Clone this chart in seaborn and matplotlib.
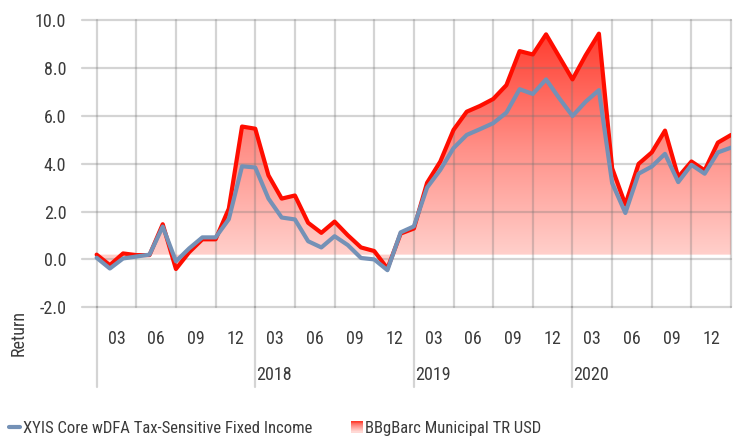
import numpy as np
import pandas as pd
import seaborn as sns
import matplotlib
matplotlib.use("Agg")
import matplotlib.pyplot as plt
from matplotlib.path import Path
from matplotlib.patches import Rectangle
from matplotlib.lines import Line2D
from matplotlib.legend_handler import HandlerBase
import matplotlib.transforms as mtransforms
from matplotlib.colors import LinearSegmentedColormap

# Monthly returns (%), 49 points
fund = [0.07, -0.38, 0.04, 0.12, 0.20, 1.37, -0.08, 0.46, 0.92, 0.92, 1.68, 3.89, 3.84,
        2.54, 1.75, 1.67, 0.76, 0.50, 0.97, 0.60, 0.06, 0.00, -0.45, 1.13, 1.38,
        3.00, 3.74, 4.65, 5.20, 5.44, 5.69, 6.13, 7.11, 6.91, 7.52, 6.73, 5.99,
        6.59, 7.07, 3.19, 1.94, 3.58, 3.88, 4.41, 3.23, 3.95, 3.58, 4.47, 4.67]
bench = [0.20, -0.24, 0.25, 0.18, 0.18, 1.47, -0.40, 0.30, 0.84, 0.84, 2.12, 5.55, 5.46,
         3.51, 2.54, 2.67, 1.53, 1.11, 1.58, 1.01, 0.50, 0.35, -0.38, 1.08, 1.29,
         3.20, 4.09, 5.41, 6.17, 6.41, 6.70, 7.28, 8.70, 8.56, 9.40, 8.46, 7.52,
         8.53, 9.43, 3.81, 2.29, 3.99, 4.47, 5.38, 3.44, 4.09, 3.72, 4.88, 5.20]
month_labels = ["03", "06", "09", "12"] * 4
year_labels = ["", "2018", "2019", "2020"]
fund_name = "XYIS Core wDFA Tax-Sensitive Fixed Income"
bench_name = "BBgBarc Municipal TR USD"

FILL_BASE = 0.2
BLUE = "#7491b6"
RED = "#ff0d00"
TXT = "#3b3b3b"
GRID = (0.45, 0.45, 0.45, 0.3)

df = pd.DataFrame({"idx": np.arange(len(fund)), "fund": fund, "bench": bench})

sns.set_theme(style="white")
plt.rcParams["font.family"] = ["Roboto Condensed", "DejaVu Sans"]
FS = 13

fig = plt.figure(figsize=(7.38, 4.40), dpi=100)
ax = fig.add_axes([81.7 / 738, 1 - 307.3 / 440, (731.5 - 81.7) / 738, (307.3 - 20) / 440])
for s in ax.spines.values():
    s.set_visible(False)

# gradient area under the benchmark line
poly = ax.fill_between(df["idx"], df["bench"], FILL_BASE, facecolor="none", edgecolor="none")
clip = Path.make_compound_path(*poly.get_paths())
cmap = LinearSegmentedColormap.from_list("grad", ["#ffd9d5", "#ff9189", "#ff3a2c"])
grad = np.linspace(0, 1, 256).reshape(-1, 1)
im = ax.imshow(grad, cmap=cmap, origin="lower", aspect="auto",
               extent=[0, 48, -0.5, 9.6], zorder=1, interpolation="bilinear")
im.set_clip_path(clip, transform=ax.transData)
ax.set_xlim(-1.13, 48.03)
ax.set_ylim(-2, 10)

# grid over the fill
for v in np.arange(-2, 10.1, 2):
    ax.axhline(v, color=GRID, lw=1.6, zorder=2, clip_on=False)
for q in range(0, 49, 3):
    ax.axvline(q, color=GRID, lw=1.6, zorder=2, clip_on=False)

sns.lineplot(data=df, x="idx", y="bench", color=RED, lw=3, ax=ax, zorder=4)
sns.lineplot(data=df, x="idx", y="fund", color=BLUE, lw=3, ax=ax, zorder=5)

# y axis
ax.set_yticks(np.arange(-2, 10.1, 2))
ax.set_yticklabels([f"{v:.1f}" for v in np.arange(-2, 10.1, 2)])
ax.tick_params(axis="y", length=0, pad=11, labelsize=FS, labelcolor=TXT)
ax.set_ylabel("")
ax.set_xlabel("")
fig.text(19 / 738, 1 - 333 / 440, "Return", rotation=90, ha="center", va="center",
         fontsize=FS, color=TXT)

# x axis: quarter ticks and month labels
ax.set_xticks(np.arange(0, 49, 3))
ax.set_xticklabels([])
ax.tick_params(axis="x", which="major", direction="out", length=9.5, width=1.6, color=GRID)
ax.set_xticks(np.arange(1.5, 48, 3), minor=True)
ax.set_xticklabels(month_labels, minor=True)
ax.tick_params(axis="x", which="minor", length=0, pad=16, labelsize=FS, labelcolor=TXT)

trans = mtransforms.blended_transform_factory(ax.transData, fig.transFigure)
for k, yr in enumerate(year_labels):
    x0 = 12 * k
    ax.plot([x0, x0], [1 - 307.3 / 440, 1 - 387 / 440], color=GRID, lw=1.6,
            transform=trans, clip_on=False)
    ax.text(x0 + 0.08, 1 - 375 / 440, yr, transform=trans, ha="left", va="center",
            fontsize=FS, color=TXT)


class GradientHandler(HandlerBase):
    def create_artists(self, legend, orig, xd, yd, w, h, fontsize, trans):
        arts = []
        n = 12
        for i in range(n):
            c = cmap(1 - i / (n - 1))
            arts.append(Rectangle((xd, yd + h - (i + 1) * h / n), w, h / n + 0.2,
                                  facecolor=c, edgecolor="none", transform=trans))
        return arts


h_fund = Line2D([], [], color=BLUE, lw=3)
h_bench = Rectangle((0, 0), 1, 1)
fig.legend([h_fund, h_bench], [fund_name, bench_name], ncol=2,
           handler_map={Rectangle: GradientHandler()},
           loc="center left", bbox_to_anchor=(8.5 / 738, 1 - 428 / 440),
           frameon=False, fontsize=12, labelcolor=TXT, handlelength=0.7,
           handleheight=0.7, handletextpad=0.15, columnspacing=2.35,
           borderpad=0, borderaxespad=0)

fig.savefig("out.png", dpi=100)
